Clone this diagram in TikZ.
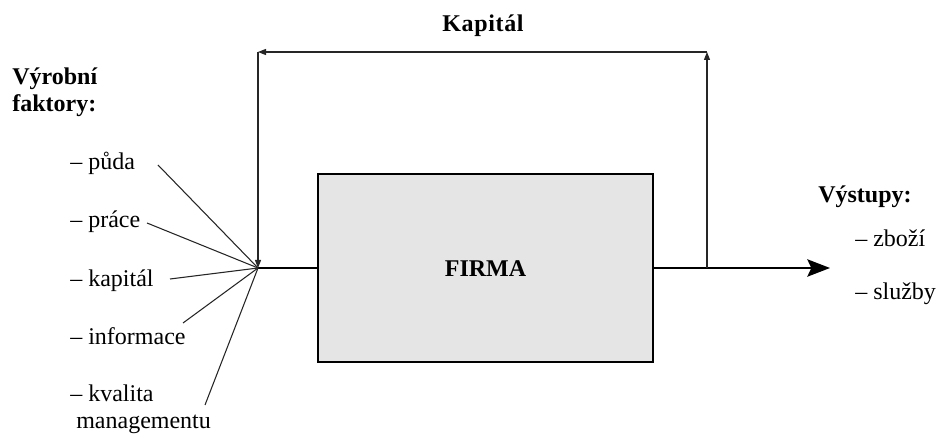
\documentclass[tikz,border=0pt]{standalone}
\usepackage{fontspec}
\setmainfont{Liberation Serif}
\usetikzlibrary{arrows.meta}
\begin{document}
\begin{tikzpicture}[x=0.75pt,y=-0.75pt,
  txt/.style={font=\fontsize{18}{22}\selectfont, inner sep=0pt, anchor=base west},
  bold/.style={txt, font=\fontsize{18}{22}\selectfont\bfseries},
  thin/.style={line width=0.8pt, draw=black!85},
  small/.style={-{Triangle[length=6pt,width=4.5pt]}},
  thick/.style={line width=1.6pt}]
\useasboundingbox (0,0) rectangle (936,438);
% box
\node[draw, line width=1.5pt, fill=black!10, minimum width=335*0.75pt, minimum height=188*0.75pt, inner sep=0pt] (firma) at (485.5,268) {};
\node[bold, anchor=center] (ft) at (485.5,268.5) {FIRMA};
% hub and coordinates
\coordinate (hub) at (258,268);
\coordinate (tl) at (258,52);
\coordinate (tr) at (707,52);
\coordinate (br) at (707,268);
\coordinate (tip) at (830,268);
\draw[thick] (hub) -- (firma.west);
\draw[thick, -{Stealth[length=17pt,width=13pt,inset=3pt]}] (firma.east) -- (tip);
\draw[thin, small] (br) -- (tr);
\draw[thin, small] (tr) -- (tl);
\draw[thin, small] (tl) -- (hub);
% labels
\node[bold, anchor=base] (kap) at (483,32) {K\kern0.5pt a\kern0.5pt p\kern0.5pt i\kern0.5pt t\kern0.5pt á\kern0.5pt l};
\node[bold] (vf1) at (12,85) {Výrobní};
\node[bold] (vf2) at (12,112) {faktory:};
\node[txt] (puda) at (70,170) {– půda};
\node[txt] (prace) at (70,228) {– práce};
\node[txt] (kapital) at (70,287) {– kapitál};
\node[txt] (info) at (70,345) {– informace};
\node[txt] (kval) at (70,402) {– kvalita};
\node[txt] (man) at (76,428) {managementu};
\node[bold] (vys) at (818,203) {Výstupy:};
\node[txt] (zbozi) at (855,247) {– zboží};
\node[txt] (sluzby) at (855,300) {– služby};
% input lines
\coordinate (p1) at (158,165);
\coordinate (p2) at (147,223);
\coordinate (p3) at (170,279);
\coordinate (p4) at (183,323);
\coordinate (p5) at (205,405);
\foreach \p in {p1,p2,p3,p4,p5} \draw[thin] (\p) -- (hub);
\end{tikzpicture}
\end{document}
